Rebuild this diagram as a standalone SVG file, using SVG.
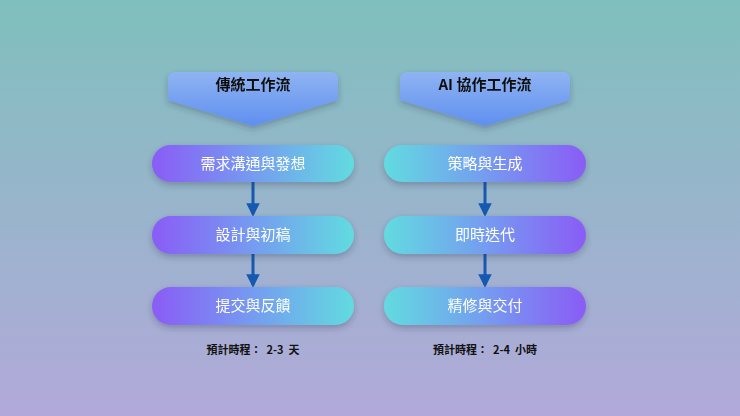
<svg xmlns="http://www.w3.org/2000/svg" width="740" height="416" viewBox="0 0 740 416">
<defs>
<linearGradient id="bg" x1="0" y1="0" x2="0" y2="1"><stop offset="0" stop-color="#7fc0bd"/><stop offset="1" stop-color="#b2a9da"/></linearGradient>
<linearGradient id="gl" x1="0" y1="0" x2="1" y2="0"><stop offset="0" stop-color="#8a5cf6"/><stop offset="0.5" stop-color="#759cf0"/><stop offset="1" stop-color="#62dbe0"/></linearGradient>
<linearGradient id="gr" x1="0" y1="0" x2="1" y2="0"><stop offset="0" stop-color="#62dbe0"/><stop offset="0.5" stop-color="#759cf0"/><stop offset="1" stop-color="#8a5cf6"/></linearGradient>
<linearGradient id="gh" x1="0" y1="0" x2="0" y2="1"><stop offset="0" stop-color="#8fb4f2"/><stop offset="1" stop-color="#5f8ff0"/></linearGradient>
<filter id="sh" x="-20%" y="-30%" width="140%" height="170%"><feDropShadow dx="0" dy="3" stdDeviation="3" flood-color="#334" flood-opacity="0.3"/></filter>
<marker id="ar" viewBox="0 0 10 10" refX="8" refY="5" markerWidth="4.5" markerHeight="4.5" orient="auto"><path d="M0,0L10,5L0,10z" fill="#1559b0"/></marker>
</defs>
<style>
.p{fill:#fff;font-family:"Noto Sans CJK TC","Noto Sans",sans-serif;font-size:15px;text-anchor:middle}
.h{fill:#111;font-family:"Noto Sans CJK TC","Noto Sans",sans-serif;font-size:15px;font-weight:bold;text-anchor:middle}
.f{fill:#111;font-family:"Noto Sans CJK TC","Noto Sans",sans-serif;font-size:11px;font-weight:bold;text-anchor:middle}
.c{stroke:#1559b0;stroke-width:3;fill:none}
</style>
<rect width="740" height="416" fill="url(#bg)"/>
<g id="h1" filter="url(#sh)"><path d="M176,72H330Q338,72 338,80V100L253,126L168,100V80Q168,72 176,72Z" fill="url(#gh)"/><text class="h" x="253" y="90">傳統工作流</text></g>
<g id="h2" filter="url(#sh)"><path d="M408,72H562Q570,72 570,80V100L485,126L400,100V80Q400,72 408,72Z" fill="url(#gh)"/><text class="h" x="485" y="90">AI 協作工作流</text></g>
<g id="connectors">
<line class="c" x1="253" y1="182" x2="253" y2="214" marker-end="url(#ar)"/>
<line class="c" x1="253" y1="254" x2="253" y2="285" marker-end="url(#ar)"/>
<line class="c" x1="485" y1="182" x2="485" y2="214" marker-end="url(#ar)"/>
<line class="c" x1="485" y1="254" x2="485" y2="285" marker-end="url(#ar)"/>
</g>
<g id="l1" filter="url(#sh)"><rect x="152" y="145" width="202" height="37" rx="18.5" fill="url(#gl)"/><text class="p" x="253" y="169">需求溝通與發想</text></g>
<g id="l2" filter="url(#sh)"><rect x="152" y="216" width="202" height="38" rx="19" fill="url(#gl)"/><text class="p" x="253" y="240">設計與初稿</text></g>
<g id="l3" filter="url(#sh)"><rect x="152" y="287" width="202" height="38" rx="19" fill="url(#gl)"/><text class="p" x="253" y="311">提交與反饋</text></g>
<g id="r1" filter="url(#sh)"><rect x="384" y="145" width="202" height="37" rx="18.5" fill="url(#gr)"/><text class="p" x="485" y="169">策略與生成</text></g>
<g id="r2" filter="url(#sh)"><rect x="384" y="216" width="202" height="38" rx="19" fill="url(#gr)"/><text class="p" x="485" y="240">即時迭代</text></g>
<g id="r3" filter="url(#sh)"><rect x="384" y="287" width="202" height="38" rx="19" fill="url(#gr)"/><text class="p" x="485" y="311">精修與交付</text></g>
<text class="f" x="253" y="354" xml:space="preserve">預計時程：  2-3  天</text>
<text class="f" x="485" y="354" xml:space="preserve">預計時程：  2-4  小時</text>
</svg>
